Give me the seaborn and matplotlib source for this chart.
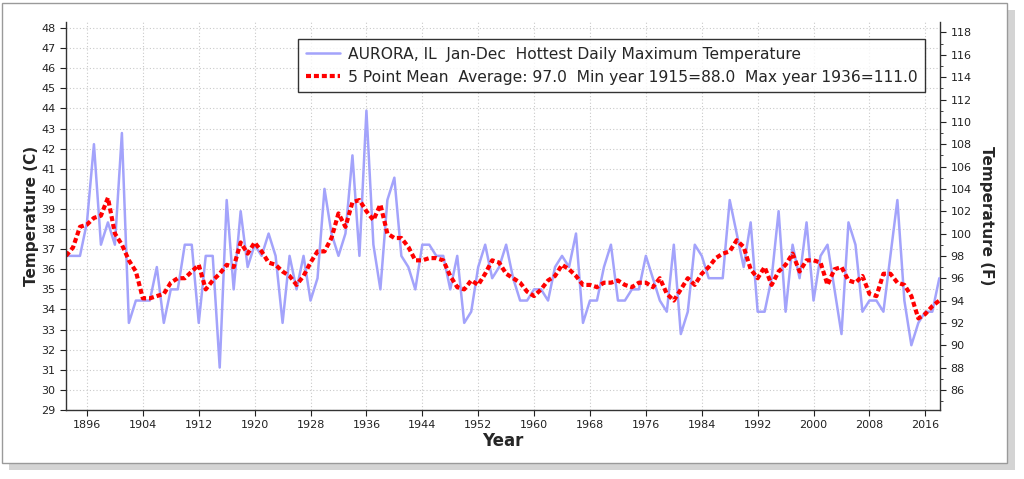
import numpy as np
import pandas as pd
import matplotlib
matplotlib.use('Agg')
import matplotlib.pyplot as plt
import seaborn as sns
from matplotlib.patches import Rectangle
from matplotlib.ticker import MultipleLocator

# data (degrees F, one value per year)
years = list(range(1893, 2019))
tmax_f = [98, 98, 98, 101, 108, 99, 101, 99, 109, 92,
          94, 94, 94, 97, 92, 95, 95, 99, 99, 92,
          98, 98, 88, 103, 95, 102, 97, 99, 98, 100,
          98, 92, 98, 95, 98, 94, 96, 104, 100, 98,
          100, 107, 98, 111, 99, 95, 103, 105, 98, 97,
          95, 99, 99, 98, 98, 95, 98, 92, 93, 97,
          99, 96, 97, 99, 96, 94, 94, 95, 95, 94,
          97, 98, 97, 100, 92, 94, 94, 97, 99, 94,
          94, 95, 95, 98, 96, 94, 93, 99, 91, 93,
          99, 98, 96, 96, 96, 103, 100, 97, 101, 93,
          93, 96, 102, 93, 99, 96, 101, 94, 98, 99,
          95, 91, 101, 99, 93, 94, 94, 93, 98, 103,
          94, 90, 92, 93, 93, 96]

label_raw = 'AURORA, IL  Jan-Dec  Hottest Daily Maximum Temperature'
label_mean = '5 Point Mean  Average: 97.0  Min year 1915=88.0  Max year 1936=111.0'
year_ticks = list(range(1896, 2017, 8))
c_ticks = list(range(29, 49))
f_ticks = list(range(86, 119, 2))

df = pd.DataFrame({'Year': years, 'F': tmax_f})
df['C'] = (df['F'] - 32) * 5 / 9
df['Mean'] = df['C'].rolling(5, center=True, min_periods=1).mean()

sns.set_style('white')
plt.rcParams['font.family'] = ['DejaVu Sans']

fig = plt.figure(figsize=(10.24, 4.79), dpi=100)

# screenshot style card with a soft shadow
W, H = 1024, 479
fig.add_artist(Rectangle((9 / W, 1 - 470 / H), 1006 / W, 460 / H, transform=fig.transFigure,
                         facecolor='#d4d4d4', edgecolor='none', zorder=-10))
fig.add_artist(Rectangle((2 / W, 1 - 463 / H), 1005 / W, 460 / H, transform=fig.transFigure,
                         facecolor='white', edgecolor='#9a9a9a', lw=1, zorder=-9))

ax = fig.add_axes([66 / W, 1 - 410 / H, 874 / W, 388 / H])
ax.set_facecolor('none')

sns.lineplot(data=df, x='Year', y='C', ax=ax, color='#a3a3fb', lw=1.8, label=label_raw)
sns.lineplot(data=df, x='Year', y='Mean', ax=ax, color='#ff0000', lw=3,
             linestyle=(0, (1.2, 0.7)), label=label_mean)

ax.set_xlim(1893, 2018.1)
ax.set_ylim(29.05, 48.3)
ax.set_xticks(year_ticks)
ax.set_yticks(c_ticks)
ax.grid(True, color='#c9c9c9', ls=(0, (1, 2)), lw=0.8)
ax.tick_params(axis='both', direction='out', length=4, width=0.8, labelsize=8,
               colors='#222222', left=True, bottom=True)
for side in ['top', 'right']:
    ax.spines[side].set_visible(False)
for side in ['left', 'bottom']:
    ax.spines[side].set_color('#333333')
    ax.spines[side].set_linewidth(1)

ax.set_xlabel('Year', fontsize=12, fontweight='bold', labelpad=1)
ax.set_ylabel('Temperature (C)', fontsize=11, fontweight='bold', labelpad=1)
ax.yaxis.set_label_coords(-27 / 874, 0.5)

# Fahrenheit axis on the right
ax2 = ax.twinx()
lo, hi = ax.get_ylim()
ax2.set_ylim(lo * 9 / 5 + 32, hi * 9 / 5 + 32)
ax2.set_yticks(f_ticks)
ax2.yaxis.set_minor_locator(MultipleLocator(1))
ax2.tick_params(axis='y', which='major', direction='out', length=4, width=0.8,
                labelsize=8, colors='#222222', right=True)
ax2.tick_params(axis='y', which='minor', direction='out', length=2, width=0.6,
                colors='#222222', right=True)
for side in ['top', 'left', 'bottom']:
    ax2.spines[side].set_visible(False)
ax2.spines['right'].set_color('#333333')
ax2.spines['right'].set_linewidth(1)
ax2.set_ylabel('Temperature (F)', fontsize=11, fontweight='bold', rotation=270)
ax2.yaxis.set_label_coords(1 + 54 / 874, 0.5)
ax2.grid(False)

handles, labels = ax.get_legend_handles_labels()
leg = ax.legend(handles, labels, loc='upper left', bbox_to_anchor=(298 / W, 1 - 39 / H),
                bbox_transform=fig.transFigure, borderaxespad=0, fancybox=False,
                frameon=True, fontsize=11.2, handlelength=2.2, handletextpad=0.5,
                borderpad=0.5, labelspacing=0.5)
leg.get_frame().set_edgecolor('black')
leg.get_frame().set_linewidth(1)
leg.set_zorder(10)
ax.set_zorder(ax2.get_zorder() + 1)

fig.savefig('out.png', dpi=100)
